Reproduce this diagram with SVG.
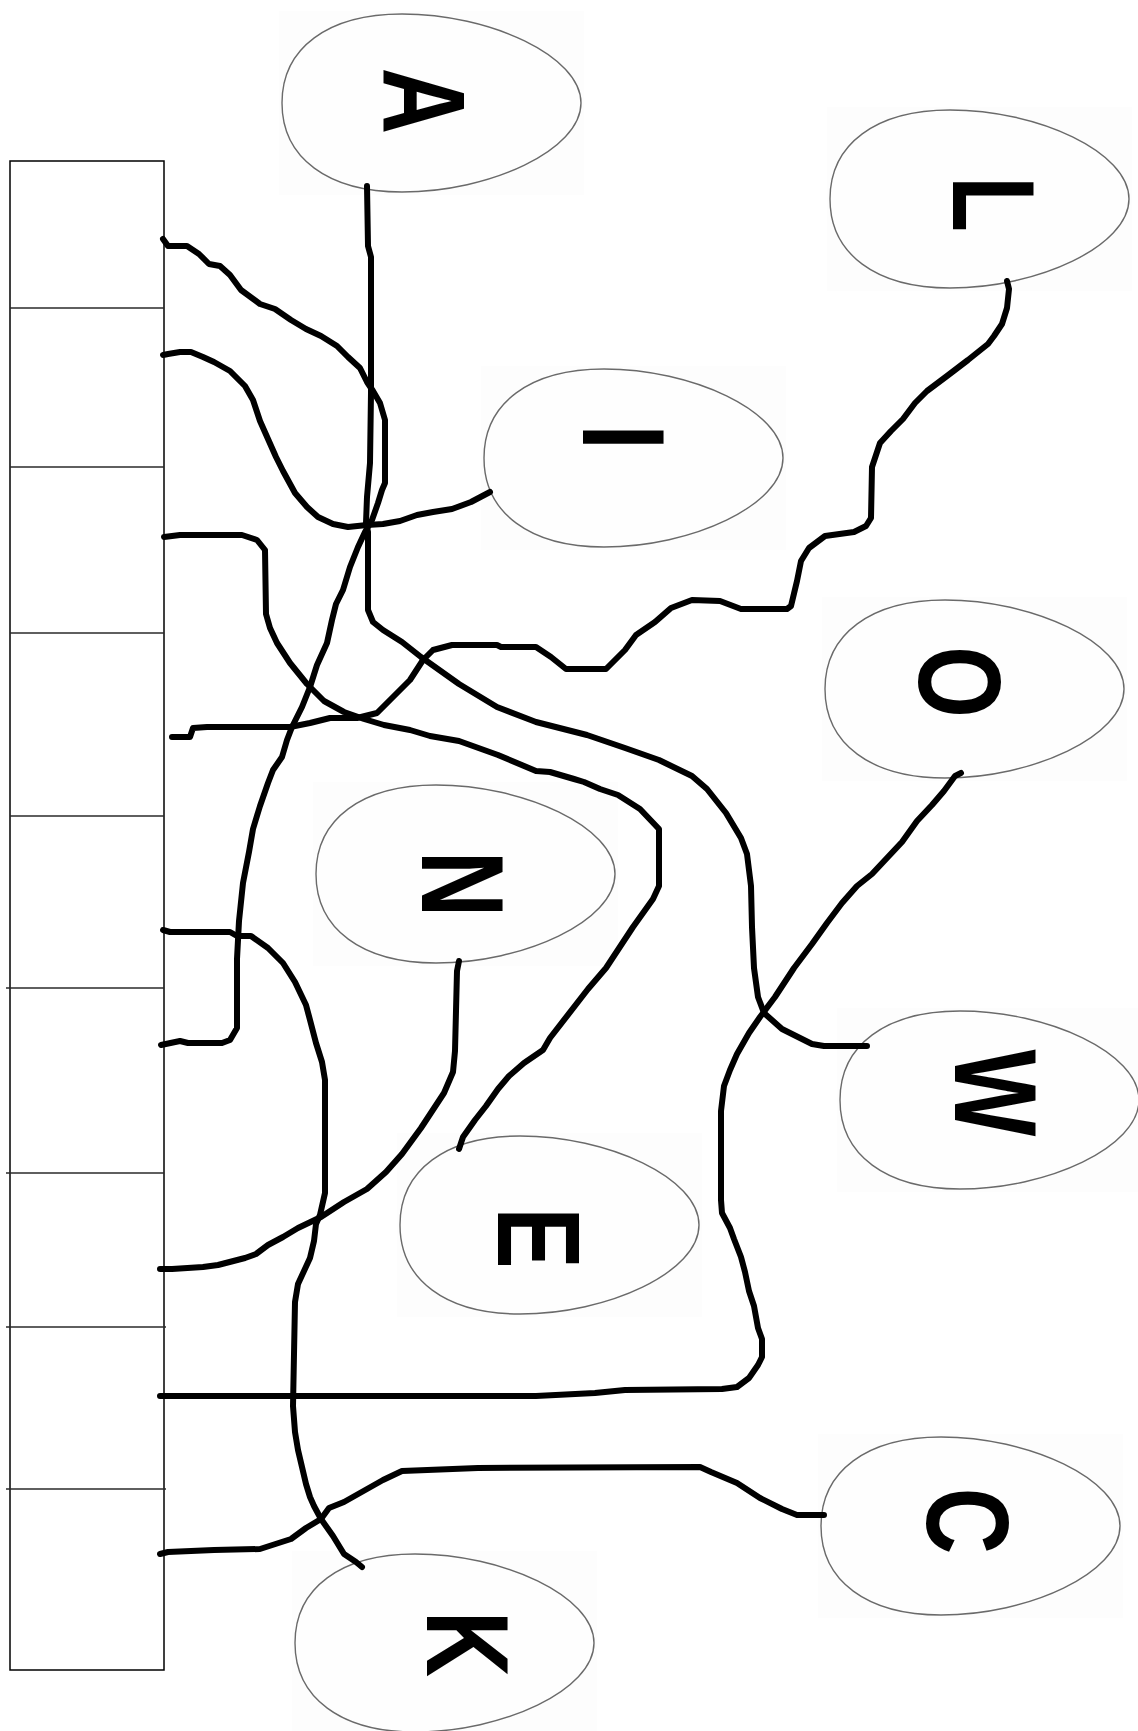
<svg xmlns="http://www.w3.org/2000/svg" width="1138" height="1731" viewBox="0 0 1138 1731">
<style>
.bg{fill:#fdfdfd;stroke:none}
.egg{fill:#fefefe;stroke:#6a6a6a;stroke-width:1.4}
.lbl{font-family:"Liberation Sans",Arial,sans-serif;font-weight:bold;font-size:92px;fill:#000;text-anchor:middle}
.wire{fill:none;stroke:#000;stroke-width:6;stroke-linejoin:round;stroke-linecap:round}
.div{stroke:#2a2a2a;stroke-width:1.5}
</style>
<defs>
<path id="eggshape" d="M0,89 C0,34 46,0 120,0 C208,0 299,42 299,89 C299,136 208,178 120,178 C46,178 0,144 0,89 Z"/>
</defs>
<rect width="1138" height="1731" fill="#fff"/>
<g id="board">
<rect x="10" y="161" width="154" height="1509" fill="none" stroke="#000" stroke-width="1.5"/>
<line class="div" x1="10" y1="308" x2="164" y2="308"/>
<line class="div" x1="10" y1="467" x2="164" y2="467"/>
<line class="div" x1="10" y1="633" x2="164" y2="633"/>
<line class="div" x1="10" y1="816" x2="164" y2="816"/>
<line class="div" x1="6" y1="988" x2="164" y2="988"/>
<line class="div" x1="6" y1="1173" x2="164" y2="1173"/>
<line class="div" x1="6" y1="1327" x2="166" y2="1327"/>
<line class="div" x1="6" y1="1489" x2="166" y2="1489"/>
</g>
<g id="node-A" transform="translate(282,14)"><rect class="bg" x="-3" y="-3" width="305" height="184"/><use href="#eggshape" class="egg"/></g>
<g id="node-L" transform="translate(830,110)"><rect class="bg" x="-3" y="-3" width="305" height="184"/><use href="#eggshape" class="egg"/></g>
<g id="node-I" transform="translate(484,369)"><rect class="bg" x="-3" y="-3" width="305" height="184"/><use href="#eggshape" class="egg"/></g>
<g id="node-O" transform="translate(825,600)"><rect class="bg" x="-3" y="-3" width="305" height="184"/><use href="#eggshape" class="egg"/></g>
<g id="node-N" transform="translate(316,785)"><rect class="bg" x="-3" y="-3" width="305" height="184"/><use href="#eggshape" class="egg"/></g>
<g id="node-W" transform="translate(840,1011)"><rect class="bg" x="-3" y="-3" width="305" height="184"/><use href="#eggshape" class="egg"/></g>
<g id="node-E" transform="translate(400,1136)"><rect class="bg" x="-3" y="-3" width="305" height="184"/><use href="#eggshape" class="egg"/></g>
<g id="node-C" transform="translate(821,1437)"><rect class="bg" x="-3" y="-3" width="305" height="184"/><use href="#eggshape" class="egg"/></g>
<g id="node-K" transform="translate(295,1554)"><rect class="bg" x="-3" y="-3" width="305" height="184"/><use href="#eggshape" class="egg"/></g>
<g id="connectors">
<path class="wire" d="M367,186 L368,246 L371,257 L371,393 L370,463 L367,497 L366,523 L368,532 L368,610 L373,622 L383,630 L402,642 L421,657 L459,684 L497,707 L536,722 L587,735 L625,748 L659,760 L692,776 L707,789 L726,813 L741,838 L747,854 L751,886 L752,927 L754,968 L758,997 L764,1013 L782,1029 L812,1044 L824,1046 L867,1046"/>
<path class="wire" d="M163,239 L168,246 L187,246 L199,254 L209,264 L220,266 L230,275 L241,290 L260,304 L275,309 L291,320 L306,329 L321,336 L337,346 L348,357 L360,368 L367,382 L373,391 L380,403 L385,420 L385,483 L382,490 L378,503 L372,520 L365,532 L358,547 L350,567 L343,590 L336,604 L332,620 L327,643 L317,665 L310,687 L302,707 L292,727 L287,740 L282,757 L273,770 L268,783 L260,806 L253,829 L249,852 L243,883 L239,921 L237,959 L237,1028 L230,1040 L222,1043 L188,1043 L180,1041 L161,1045"/>
<path class="wire" d="M163,355 L168,354 L180,352 L191,352 L203,357 L214,362 L230,371 L245,386 L253,400 L260,421 L268,439 L276,457 L283,471 L295,493 L307,507 L318,517 L333,524 L348,527 L367,525 L383,524 L400,521 L417,515 L433,512 L452,509 L471,502 L490,492"/>
<path class="wire" d="M164,537 L180,535 L242,535 L257,540 L265,550 L266,614 L270,628 L277,643 L290,663 L307,684 L324,701 L344,712 L364,719 L384,725 L410,730 L430,736 L459,741 L498,755 L536,771 L550,772 L574,779 L584,782 L600,789 L618,795 L640,809 L659,829 L659,886 L653,899 L633,927 L606,968 L588,989 L550,1038 L543,1050 L524,1063 L509,1076 L498,1089 L486,1106 L475,1120 L463,1137 L459,1149"/>
<path class="wire" d="M1007,281 L1009,289 L1007,308 L1002,324 L994,336 L988,344 L968,360 L947,376 L927,391 L915,403 L903,419 L891,431 L880,443 L872,467 L871,518 L866,526 L854,532 L825,536 L809,548 L801,561 L797,581 L791,606 L787,609 L741,609 L720,601 L692,600 L671,608 L655,622 L636,635 L625,650 L606,669 L566,669 L551,657 L536,647 L501,647 L497,645 L452,645 L433,650 L423,660 L410,680 L390,700 L377,713 L357,718 L330,718 L310,723 L290,727 L207,727 L193,728 L190,737 L172,737"/>
<path class="wire" d="M459,961 L457,971 L455,1051 L453,1072 L444,1093 L421,1128 L402,1154 L386,1172 L367,1189 L344,1202 L321,1217 L298,1228 L283,1237 L268,1245 L256,1254 L245,1258 L218,1265 L203,1267 L172,1269 L160,1269"/>
<path class="wire" d="M163,930 L170,932 L230,932 L237,936 L251,936 L268,948 L283,963 L295,982 L306,1005 L310,1020 L316,1043 L322,1062 L325,1080 L325,1193 L320,1215 L316,1224 L314,1241 L310,1258 L304,1271 L298,1284 L295,1302 L293,1406 L295,1432 L298,1450 L302,1467 L306,1484 L310,1497 L314,1506 L321,1519 L333,1536 L344,1554 L356,1562 L362,1567"/>
<path class="wire" d="M160,1396 L176,1396 L536,1396 L595,1393 L625,1390 L722,1389 L737,1387 L749,1378 L758,1365 L762,1357 L762,1339 L758,1328 L754,1306 L749,1291 L745,1272 L741,1257 L734,1239 L730,1228 L722,1213 L721,1200 L721,1111 L724,1086 L730,1070 L737,1054 L749,1033 L760,1017 L775,997 L794,968 L812,944 L827,923 L842,903 L857,886 L872,874 L887,858 L902,842 L917,821 L932,805 L944,791 L955,776 L961,773"/>
<path class="wire" d="M160,1554 L168,1552 L214,1550 L260,1549 L291,1539 L306,1528 L321,1519 L329,1508 L344,1502 L383,1480 L402,1471 L478,1468 L700,1467 L711,1472 L737,1483 L760,1498 L782,1509 L797,1515 L824,1515"/>
</g>
<g id="labels">
<text class="lbl" transform="translate(425,101) rotate(90) scale(1,1.27)" y="33">A</text>
<text class="lbl" transform="translate(995,204) rotate(90) scale(1,1.27)" y="33">L</text>
<text class="lbl" transform="translate(625,437) rotate(90) scale(1,1.27)" y="33">I</text>
<text class="lbl" transform="translate(961,682) rotate(90) scale(1,1.27)" y="33">O</text>
<text class="lbl" transform="translate(464,884) rotate(90) scale(1,1.27)" y="33">N</text>
<text class="lbl" transform="translate(997,1093) rotate(90) scale(1,1.27)" y="33">W</text>
<text class="lbl" transform="translate(540,1238) rotate(90) scale(1,1.27)" y="33">E</text>
<text class="lbl" transform="translate(969,1521) rotate(90) scale(1,1.27)" y="33">C</text>
<text class="lbl" transform="translate(469,1644) rotate(90) scale(1,1.27)" y="33">K</text>
</g>
</svg>
